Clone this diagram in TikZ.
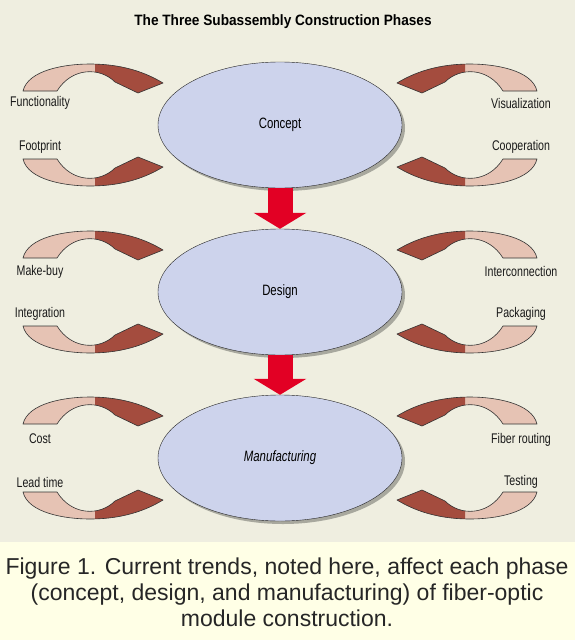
\documentclass[tikz,border=0pt]{standalone}
\usepackage{fontspec}
\setmainfont{Liberation Sans}
\setsansfont{Liberation Sans}
\usepackage{graphicx}
\usepackage{xcolor}
\usetikzlibrary{shapes.geometric, positioning, shadows, arrows.meta}

\definecolor{bgbeige}{RGB}{239,238,224}
\definecolor{capyellow}{RGB}{255,255,230}
\definecolor{phaseblue}{RGB}{205,211,236}
\definecolor{trendpink}{RGB}{230,195,180}
\definecolor{trenddark}{RGB}{164,76,62}
\definecolor{flowred}{RGB}{226,0,36}
\definecolor{shadowgray}{RGB}{168,168,158}

\newcommand{\condensed}[1]{\scalebox{0.76}[1]{#1}}
\newcommand{\trendshape}{(-257,-34) .. controls (-252,-55) and (-215,-61) .. (-190,-61) .. controls (-165,-61) and (-140,-56) .. (-117,-42) -- (-142,-32) -- (-165,-43) .. controls (-180,-58) and (-208,-58) .. (-223,-34) -- cycle}

\begin{document}
\begin{tikzpicture}[x=1pt, y=-1pt,
    phase/.style={ellipse, draw=black!85, thin, fill=phaseblue, minimum width=244pt, minimum height=126pt, inner sep=0pt, font=\fontsize{15}{17}\selectfont, drop shadow={shadow xshift=3pt, shadow yshift=-3pt, fill=shadowgray, opacity=1}},
    trend/.style={font=\fontsize{14}{16}\selectfont, text=black!90, inner sep=0pt},
    flow/.style={line width=25pt, flowred, -{Triangle[length=16pt, width=52pt]}},
    swoosh/.pic={
        \fill[trendpink] \trendshape;
        \begin{scope}
            \clip (-185,-70) rectangle (-100,-20);
            \fill[trenddark] \trendshape;
        \end{scope}
        \draw[black!80, line width=0.6pt, line join=round] \trendshape;
    }
]
    \useasboundingbox (0,0) rectangle (575,640);
    \fill[bgbeige] (0,0) rectangle (575,542);
    \fill[capyellow] (0,542) rectangle (575,640);

    \node[font=\bfseries\fontsize{15}{17}\selectfont] (title) at (283,22) {\scalebox{0.91}[1]{The Three Subassembly Construction Phases}};

    % trend arrows round each phase
    \coordinate (c1) at (280,125);
    \coordinate (c2) at (280,292);
    \coordinate (c3) at (280,458);
    \pic at (c1) {swoosh};
    \pic[yscale=-1] at (c1) {swoosh};
    \pic[xscale=-1] at (c1) {swoosh};
    \pic[scale=-1] at (c1) {swoosh};
    \pic at (c2) {swoosh};
    \pic[yscale=-1] at (c2) {swoosh};
    \pic[xscale=-1] at (c2) {swoosh};
    \pic[scale=-1] at (c2) {swoosh};
    \pic at (c3) {swoosh};
    \pic[yscale=-1] at (c3) {swoosh};
    \pic[xscale=-1] at (c3) {swoosh};
    \pic[scale=-1] at (c3) {swoosh};

    \node[phase] (concept) at (c1) {\condensed{Concept}};
    \node[phase] (design) at (c2) {\condensed{Design}};
    \node[phase] (manufacturing) at (c3) {\condensed{\itshape Manufacturing}};

    \draw[flow] (concept.south) -- (design.north);
    \draw[flow] (design.south) -- (manufacturing.north);

    \node[trend] (functionality) at (40,103) {\condensed{Functionality}};
    \node[trend] (footprint) at (40,147) {\condensed{Footprint}};
    \node[trend] (visualization) at (521,103) {\condensed{Visualization}};
    \node[trend] (cooperation) at (521,147) {\condensed{Cooperation}};
    \node[trend] (makebuy) at (40,272) {\condensed{Make-buy}};
    \node[trend] (integration) at (40,314) {\condensed{Integration}};
    \node[trend] (interconnection) at (521,271) {\condensed{Interconnection}};
    \node[trend] (packaging) at (521,314) {\condensed{Packaging}};
    \node[trend] (cost) at (40,439) {\condensed{Cost}};
    \node[trend] (leadtime) at (40,482) {\condensed{Lead time}};
    \node[trend] (fiberrouting) at (521,440) {\condensed{Fiber routing}};
    \node[trend] (testing) at (521,482) {\condensed{Testing}};

    \node[font=\fontsize{23}{26}\selectfont, align=center, text=black!85] (caption) at (287,592) {Figure 1. Current trends, noted here, affect each phase\\(concept, design, and manufacturing) of fiber-optic\\module construction.};
\end{tikzpicture}
\end{document}
